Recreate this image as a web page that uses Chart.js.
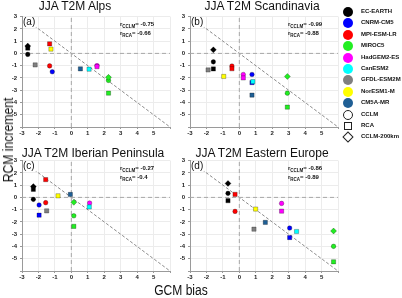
<!DOCTYPE html>
<html>
<head>
<meta charset="utf-8">
<script src="https://cdn.jsdelivr.net/npm/chart.js@4.4.1/dist/chart.umd.min.js"></script>
<style>
  body { margin: 0; width: 402px; height: 298px; overflow: hidden; position: relative;
         background: #fff; font-family: "Liberation Sans", Arial, sans-serif; color: #111; }
  canvas { position: absolute; }
  .title { position: absolute; font-size: 12px; line-height: 12px; white-space: nowrap;
           transform: translateX(-50%); z-index: 2; }
  .letter { position: absolute; font-size: 10px; line-height: 10px; background: #fff; padding-right: 1px; z-index: 2; }
  .corr { position: absolute; font-size: 6px; line-height: 9px; font-weight: bold; white-space: nowrap; z-index: 2; }
  .corr sub { font-size: 4.5px; vertical-align: -1.5px; line-height: 0; }
  .axlabel { position: absolute; font-size: 14px; line-height: 14px; white-space: nowrap; z-index: 2; }
  .leg { position: absolute; left: 340px; top: 6px; }
  .row { position: absolute; left: 0; height: 11px; width: 62px; }
  .row span { position: absolute; left: 21px; top: 2px; font-size: 6px; line-height: 7px; font-weight: bold; white-space: nowrap; }
  .mk { position: absolute; box-sizing: border-box; }
</style>
</head>
<body>
<canvas id="pa" width="174" height="129"></canvas>
<canvas id="pb" width="174" height="129"></canvas>
<canvas id="pc" width="174" height="129"></canvas>
<canvas id="pd" width="174" height="129"></canvas>
<div class="axlabel" style="left:8px;top:140px;transform:translate(-50%,-50%) rotate(-90deg) scaleX(0.87);">RCM increment</div>
<div class="axlabel" style="left:181px;top:290px;transform:translate(-50%,-50%) scaleX(0.86);">GCM bias</div>
<div class="leg" id="legend"></div>
<script>
"use strict";

// ── Data ──────────────────────────────────────────────────
const gcms      = ["EC-EARTH", "CNRM-CM5", "MPI-ESM-LR", "MIROC5", "HadGEM2-ES",
                   "CanESM2", "GFDL-ESM2M", "NorESM1-M", "CM5A-MR"];
const gcmColors = ["#000000", "#0000ff", "#ff0000", "#22ee22", "#ff00ff",
                   "#00ffff", "#808080", "#ffff00", "#1f5f95"];
const rcms      = ["CCLM", "RCA", "CCLM-200km"];

// GCM bias (x) and RCM increments (y) per GCM, null = no run
const alpsBias   = [-2.65, -1.16, -1.32, 2.26, 1.56, 1.08, -2.2, -1.24, 0.55];
const alpsCCLM   = [-0.08, -1.5, -1.02, -2.2, -1.0, null, null, null, null];
const alpsRCA    = [0.43, null, 0.78, -3.24, -1.08, -1.29, -0.94, 0.35, -1.26];
const alps200    = [0.6, null, null, -1.95, null, null, null, null, null];

const scanBias   = [-1.58, 0.77, -0.45, 2.92, 0.24, 0.82, -1.9, -0.95, 0.77];
const scanCCLM   = [-0.69, -1.72, -1.03, -3.24, -1.72, null, null, null, null];
const scanRCA    = [-1.27, -2.38, -1.25, -4.38, -2.0, -2.3, -1.35, -1.88, -3.4];
const scan200    = [0.29, null, null, -1.88, null, null, null, null, null];

const iberBias   = [-2.31, -1.96, -1.56, 0.15, 1.11, 1.09, -1.5, -0.81, -0.06];
const iberCCLM   = [-0.16, -0.62, -0.43, -1.5, -0.46, null, null, null, null];
const iberRCA    = [0.66, -1.45, 1.45, -2.36, null, -0.78, -1.1, 0.13, 0.24];
const iber200    = [0.88, null, null, -0.4, null, null, null, null, null];

const eastBias   = [-0.69, 3.06, -0.26, 5.73, 2.57, 3.48, 0.89, 0.99, 1.58];
const eastCCLM   = [0.33, -2.5, -1.14, -3.99, -0.49, null, null, null, null];
const eastRCA    = [-0.27, -3.27, 0.25, -5.25, -1.12, -2.78, -2.59, -0.95, -2.04];
const east200    = [1.14, null, null, -2.74, null, null, null, null, null];

const titles   = ["JJA T2M Alps", "JJA T2M Scandinavia", "JJA T2M Iberian Peninsula", "JJA T2M Eastern Europe"];
const letters  = ["(a)", "(b)", "(c)", "(d)"];
const rCCLM    = ["-0.75", "-0.99", "-0.27", "-0.86"];
const rRCA     = ["-0.66", "-0.88", "-0.4", "-0.89"];

const xTicksMin = -3, xTicksMax = 6;
const yTicksMin = -6, yTicksMax = 3;

// ── Layout (plot-area corner, title centre) ───────────────
const panels = [
  { id: "pa", left: 22,  top: 16,  titleX: 75,  titleY: 0   },
  { id: "pb", left: 190, top: 16,  titleX: 262, titleY: 0   },
  { id: "pc", left: 22,  top: 160, titleX: 93,  titleY: 147 },
  { id: "pd", left: 190, top: 160, titleX: 262, titleY: 147 },
];
const regionData = [
  [alpsBias, [alpsCCLM, alpsRCA, alps200]],
  [scanBias, [scanCCLM, scanRCA, scan200]],
  [iberBias, [iberCCLM, iberRCA, iber200]],
  [eastBias, [eastCCLM, eastRCA, east200]],
];

const shapes = ["circle", "rect", "rectRot"];
const radii  = [2.3, 3.0, 3.0];

function refLine(pts, color, dash) {
  return { type: "line", data: pts, borderColor: color, borderWidth: 1,
           borderDash: dash, pointRadius: 0, fill: false, order: 10 };
}

function makePanel(p, bias, incs) {
  const canvas = document.getElementById(p.id);
  canvas.style.left = (p.left - 20) + "px";
  canvas.style.top  = (p.top - 6) + "px";

  const datasets = [
    refLine([{ x: 0, y: yTicksMin }, { x: 0, y: yTicksMax }], "#a8a8a8", [4, 3]),
    refLine([{ x: xTicksMin, y: 0 }, { x: xTicksMax, y: 0 }], "#a8a8a8", [4, 3]),
    refLine([{ x: xTicksMin, y: 3 }, { x: xTicksMax, y: -6 }], "#8a8a8a", [3, 2]),
  ];
  [2, 1, 0].forEach(k => {
    const pts = [], cols = [];
    incs[k].forEach((v, i) => {
      if (v === null) return;
      pts.push({ x: bias[i], y: v });
      cols.push(gcmColors[i]);
    });
    datasets.push({
      type: "scatter", data: pts, pointStyle: shapes[k], pointRadius: radii[k],
      backgroundColor: cols, pointBackgroundColor: cols,
      borderColor: "rgba(0,0,0,0.45)", pointBorderColor: "rgba(0,0,0,0.45)",
      borderWidth: 0.6, order: 1,
    });
  });

  const tickFont = { size: 6, weight: "bold", family: "Liberation Sans, Arial, sans-serif" };
  new Chart(canvas, {
    type: "scatter",
    data: { datasets },
    options: {
      responsive: false,
      animation: false,
      layout: { padding: { left: 4, top: 6, right: 6, bottom: 0 } },
      plugins: { legend: { display: false }, tooltip: { enabled: false } },
      scales: {
        x: {
          type: "linear", min: xTicksMin, max: xTicksMax,
          afterFit: s => { s.height = 12; },
          ticks: { stepSize: 1, autoSkip: false, maxRotation: 0, padding: 1, color: "#222",
                   font: tickFont, callback: v => (v === xTicksMax ? "" : v) },
          grid: { color: "#ececec", tickLength: 2, tickColor: "#999" },
          border: { color: "#9a9a9a" },
        },
        y: {
          type: "linear", min: yTicksMin, max: yTicksMax,
          afterFit: s => { s.width = 16; },
          ticks: { stepSize: 1, autoSkip: false, padding: 3, color: "#222",
                   font: tickFont, callback: v => (v === yTicksMin ? "" : v) },
          grid: { color: "#ececec", tickLength: 2, tickColor: "#999" },
          border: { color: "#9a9a9a" },
        },
      },
    },
  });
}

// ── Build panels + text ───────────────────────────────────
panels.forEach((p, n) => {
  makePanel(p, regionData[n][0], regionData[n][1]);

  const t = document.createElement("div");
  t.className = "title";
  t.style.left = p.titleX + "px";
  t.style.top  = p.titleY + "px";
  t.textContent = titles[n];
  document.body.appendChild(t);

  const l = document.createElement("div");
  l.className = "letter";
  l.style.left = (p.left + 1) + "px";
  l.style.top  = (p.top + 1) + "px";
  l.textContent = letters[n];
  document.body.appendChild(l);

  const c = document.createElement("div");
  c.className = "corr";
  c.style.left = (p.left + 98) + "px";
  c.style.top  = (p.top + 4) + "px";
  c.innerHTML = `r<sub>CCLM</sub>= ${rCCLM[n]}<br>r<sub>RCA</sub>= ${rRCA[n]}`;
  document.body.appendChild(c);
});

// ── Legend ────────────────────────────────────────────────
const legend = document.getElementById("legend");
const rowStep = 11.4;
function addRow(i, label, css) {
  const row = document.createElement("div");
  row.className = "row";
  row.style.top = (i * rowStep) + "px";
  const mk = document.createElement("div");
  mk.className = "mk";
  Object.assign(mk.style, css);
  row.appendChild(mk);
  const s = document.createElement("span");
  s.textContent = label;
  row.appendChild(s);
  legend.appendChild(row);
}
gcms.forEach((g, i) => addRow(i, g, {
  left: "3px", top: "1px", width: "10px", height: "10px", borderRadius: "50%", background: gcmColors[i],
}));
addRow(9,  rcms[0], { left: "3px", top: "1px", width: "10px", height: "10px", borderRadius: "50%", border: "1px solid #222" });
addRow(10, rcms[1], { left: "4px", top: "2px", width: "8px", height: "8px", border: "1px solid #222" });
addRow(11, rcms[2], { left: "4px", top: "2px", width: "8px", height: "8px", border: "1px solid #222", transform: "rotate(45deg)" });
</script>
</body>
</html>
